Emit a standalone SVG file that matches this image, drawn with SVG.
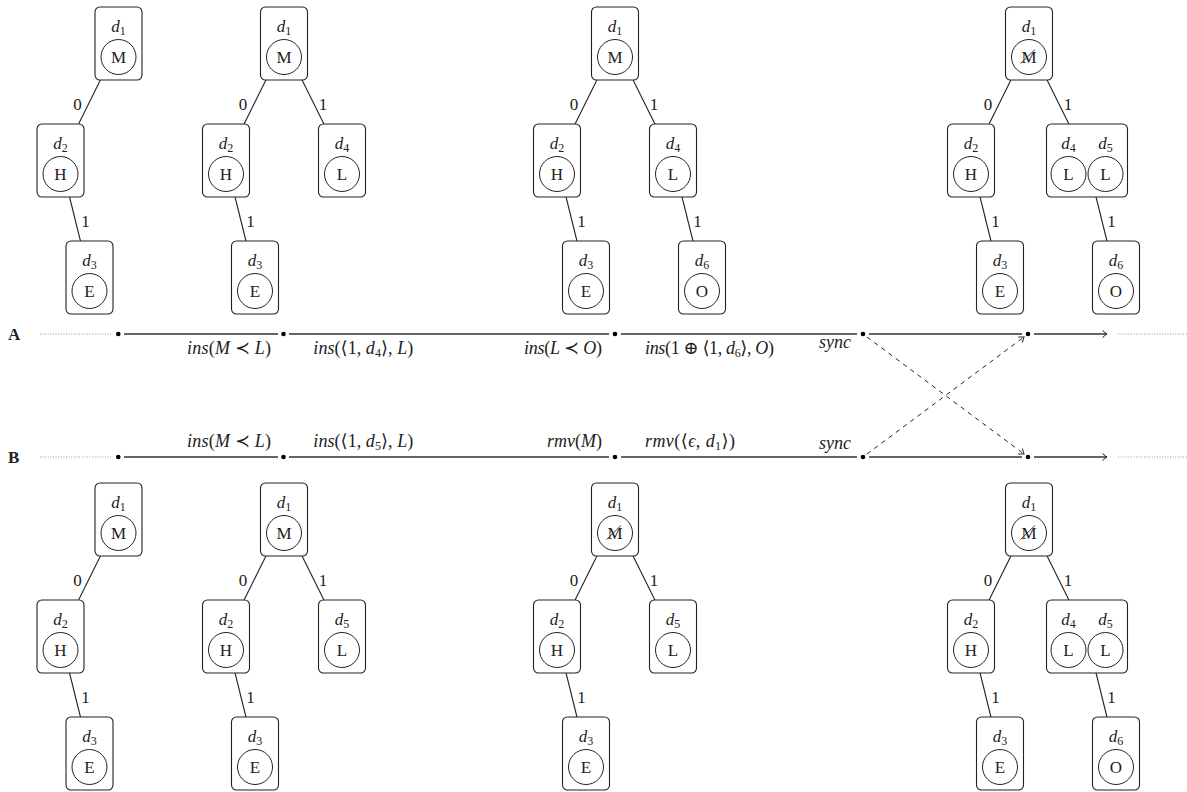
<svg xmlns="http://www.w3.org/2000/svg" width="1187" height="792" viewBox="0 0 1187 792">
<defs>
<style>
.box{fill:#fff;stroke:#222;stroke-width:1.1}
.cir{fill:none;stroke:#222;stroke-width:1}
.t{font-family:"Liberation Serif","DejaVu Serif",serif;font-size:17px;fill:#222}
.tm{font-family:"Liberation Serif","DejaVu Serif",serif;font-size:18px;fill:#222}
.m{text-anchor:middle}
.e{text-anchor:end}
.it{font-style:italic}
.sub{font-size:12px}
.edge{stroke:#222;stroke-width:1.1;fill:none}
.tl{stroke:#333;stroke-width:1.6;fill:none}
.dot{stroke:#999;stroke-width:1;stroke-dasharray:1 1.6;fill:none}
.dash{stroke:#222;stroke-width:1;stroke-dasharray:4.5 4.5;fill:none}
.strike{stroke:#222;stroke-width:0.9}
.pt{fill:#000}
</style>
<marker id="ah" viewBox="-6 -5 8 10" markerWidth="8" markerHeight="10" refX="0" refY="0" orient="auto" markerUnits="userSpaceOnUse">
<path d="M-4.5,-3.5 Q-1.5,-0.8 0,0 Q-1.5,0.8 -4.5,3.5" fill="none" stroke="#222" stroke-width="1"/>
</marker>
</defs>
<rect width="1187" height="792" fill="#fff"/>

<!-- connectors -->
<g id="connectors">
<line class="edge" x1="100.4" y1="80" x2="78.6" y2="124"/>
<line class="edge" x1="69.55" y1="197" x2="80.45" y2="241"/>
<line class="edge" x1="265.9" y1="80" x2="244.1" y2="124"/>
<line class="edge" x1="302.1" y1="80" x2="323.9" y2="124"/>
<line class="edge" x1="235.05" y1="197" x2="245.95" y2="241"/>
<line class="edge" x1="596.9" y1="80" x2="575.1" y2="124"/>
<line class="edge" x1="633.1" y1="80" x2="654.9" y2="124"/>
<line class="edge" x1="566.05" y1="197" x2="576.95" y2="241"/>
<line class="edge" x1="682.05" y1="197" x2="692.95" y2="241"/>
<line class="edge" x1="1010.9" y1="80" x2="989.1" y2="124"/>
<line class="edge" x1="1047.1" y1="80" x2="1068.9" y2="124"/>
<line class="edge" x1="980.05" y1="197" x2="990.95" y2="241"/>
<line class="edge" x1="1096.05" y1="197" x2="1106.95" y2="241"/>
<line class="edge" x1="100.4" y1="556" x2="78.6" y2="600"/>
<line class="edge" x1="69.55" y1="673" x2="80.45" y2="717"/>
<line class="edge" x1="265.9" y1="556" x2="244.1" y2="600"/>
<line class="edge" x1="302.1" y1="556" x2="323.9" y2="600"/>
<line class="edge" x1="235.05" y1="673" x2="245.95" y2="717"/>
<line class="edge" x1="596.9" y1="556" x2="575.1" y2="600"/>
<line class="edge" x1="633.1" y1="556" x2="654.9" y2="600"/>
<line class="edge" x1="566.05" y1="673" x2="576.95" y2="717"/>
<line class="edge" x1="1010.9" y1="556" x2="989.1" y2="600"/>
<line class="edge" x1="1047.1" y1="556" x2="1068.9" y2="600"/>
<line class="edge" x1="980.05" y1="673" x2="990.95" y2="717"/>
<line class="edge" x1="1096.05" y1="673" x2="1106.95" y2="717"/>
<g class="t m">
<text x="77.5" y="109.5">0</text><text x="85.5" y="226.5">1</text>
<text x="243" y="109.5">0</text><text x="323" y="109.5">1</text><text x="250.5" y="226.5">1</text>
<text x="574" y="109.5">0</text><text x="654" y="109.5">1</text><text x="581.5" y="226.5">1</text><text x="697.5" y="226.5">1</text>
<text x="988" y="109.5">0</text><text x="1068" y="109.5">1</text><text x="995.5" y="226.5">1</text><text x="1111.5" y="226.5">1</text>
<text x="77.5" y="585.5">0</text><text x="85.5" y="702.5">1</text>
<text x="243" y="585.5">0</text><text x="323" y="585.5">1</text><text x="250.5" y="702.5">1</text>
<text x="574" y="585.5">0</text><text x="654" y="585.5">1</text><text x="581.5" y="702.5">1</text>
<text x="988" y="585.5">0</text><text x="1068" y="585.5">1</text><text x="995.5" y="702.5">1</text><text x="1111.5" y="702.5">1</text>
</g>

<line class="dot" x1="40" y1="334" x2="113" y2="334"/>
<line class="tl" x1="124" y1="334" x2="278" y2="334"/>
<line class="tl" x1="289" y1="334" x2="609" y2="334"/>
<line class="tl" x1="621" y1="334" x2="857" y2="334"/>
<line class="tl" x1="869" y1="334" x2="1022" y2="334"/>
<line class="tl" x1="1034" y1="334" x2="1107" y2="334" marker-end="url(#ah)"/>
<line class="dot" x1="1118" y1="334" x2="1187" y2="334"/>
<line class="dot" x1="40" y1="457" x2="113" y2="457"/>
<line class="tl" x1="124" y1="457" x2="278" y2="457"/>
<line class="tl" x1="289" y1="457" x2="609" y2="457"/>
<line class="tl" x1="621" y1="457" x2="857" y2="457"/>
<line class="tl" x1="869" y1="457" x2="1022" y2="457"/>
<line class="tl" x1="1034" y1="457" x2="1107" y2="457" marker-end="url(#ah)"/>
<line class="dot" x1="1118" y1="457" x2="1187" y2="457"/>
<line class="dash" x1="867" y1="337" x2="1024" y2="454" marker-end="url(#ah)"/>
<line class="dash" x1="867" y1="454" x2="1024" y2="337" marker-end="url(#ah)"/>
<g class="pt">
<circle cx="118.3" cy="334" r="2.3"/><circle cx="283.5" cy="334" r="2.3"/><circle cx="615" cy="334" r="2.3"/><circle cx="863" cy="334" r="2.3"/><circle cx="1028" cy="334" r="2.3"/>
<circle cx="118.3" cy="457" r="2.3"/><circle cx="283.5" cy="457" r="2.3"/><circle cx="615" cy="457" r="2.3"/><circle cx="863" cy="457" r="2.3"/><circle cx="1028" cy="457" r="2.3"/>
</g>
</g>

<g id="labels" class="tm">
<text x="8" y="340" font-weight="bold" font-size="17">A</text>
<text x="8" y="463" font-weight="bold" font-size="17">B</text>
<text class="e" x="271" y="354" textLength="84" lengthAdjust="spacing"><tspan class="it">ins</tspan>(<tspan class="it">M</tspan> ≺ <tspan class="it">L</tspan>)</text>
<text x="313.3" y="354" textLength="100" lengthAdjust="spacing"><tspan class="it">ins</tspan>(⟨1, <tspan class="it">d</tspan><tspan class="sub" dy="3">4</tspan><tspan dy="-3">⟩, </tspan><tspan class="it">L</tspan>)</text>
<text class="e" x="602" y="354" textLength="78" lengthAdjust="spacing"><tspan class="it">ins</tspan>(<tspan class="it">L</tspan> ≺ <tspan class="it">O</tspan>)</text>
<text x="645" y="354" textLength="129" lengthAdjust="spacing"><tspan class="it">ins</tspan>(1 ⊕ ⟨1, <tspan class="it">d</tspan><tspan class="sub" dy="3">6</tspan><tspan dy="-3">⟩, </tspan><tspan class="it">O</tspan>)</text>
<text class="e it" x="851" y="347.5">sync</text>
<text class="e" x="271" y="447" textLength="84" lengthAdjust="spacing"><tspan class="it">ins</tspan>(<tspan class="it">M</tspan> ≺ <tspan class="it">L</tspan>)</text>
<text x="313.3" y="447" textLength="100" lengthAdjust="spacing"><tspan class="it">ins</tspan>(⟨1, <tspan class="it">d</tspan><tspan class="sub" dy="3">5</tspan><tspan dy="-3">⟩, </tspan><tspan class="it">L</tspan>)</text>
<text class="e" x="602" y="447"><tspan class="it">rmv</tspan>(<tspan class="it">M</tspan>)</text>
<text x="645" y="447" textLength="90" lengthAdjust="spacing"><tspan class="it">rmv</tspan>(⟨<tspan class="it">ϵ</tspan>, <tspan class="it">d</tspan><tspan class="sub" dy="3">1</tspan><tspan dy="-3">⟩)</tspan></text>
<text class="e it" x="851" y="449">sync</text>
</g>

<!-- ===== TOP TREES ===== -->
<g id="A1-d1"><rect class="box" x="95" y="7" width="47" height="73" rx="5"/><text class="t m" x="118.5" y="31.5"><tspan class="it">d</tspan><tspan class="sub" dy="3">1</tspan></text><circle class="cir" cx="118.5" cy="57" r="17.5"/><text class="t m" x="118.5" y="63">M</text></g>
<g id="A1-d2"><rect class="box" x="37" y="124" width="47" height="73" rx="5"/><text class="t m" x="60.5" y="148.5"><tspan class="it">d</tspan><tspan class="sub" dy="3">2</tspan></text><circle class="cir" cx="60.5" cy="174" r="17.5"/><text class="t m" x="60.5" y="180">H</text></g>
<g id="A1-d3"><rect class="box" x="66" y="241" width="47" height="73" rx="5"/><text class="t m" x="89.5" y="265.5"><tspan class="it">d</tspan><tspan class="sub" dy="3">3</tspan></text><circle class="cir" cx="89.5" cy="291" r="17.5"/><text class="t m" x="89.5" y="297">E</text></g>

<g id="A2-d1"><rect class="box" x="260.5" y="7" width="47" height="73" rx="5"/><text class="t m" x="284" y="31.5"><tspan class="it">d</tspan><tspan class="sub" dy="3">1</tspan></text><circle class="cir" cx="284" cy="57" r="17.5"/><text class="t m" x="284" y="63">M</text></g>
<g id="A2-d2"><rect class="box" x="202.5" y="124" width="47" height="73" rx="5"/><text class="t m" x="226" y="148.5"><tspan class="it">d</tspan><tspan class="sub" dy="3">2</tspan></text><circle class="cir" cx="226" cy="174" r="17.5"/><text class="t m" x="226" y="180">H</text></g>
<g id="A2-d4"><rect class="box" x="318.5" y="124" width="47" height="73" rx="5"/><text class="t m" x="342" y="148.5"><tspan class="it">d</tspan><tspan class="sub" dy="3">4</tspan></text><circle class="cir" cx="342" cy="174" r="17.5"/><text class="t m" x="342" y="180">L</text></g>
<g id="A2-d3"><rect class="box" x="231.5" y="241" width="47" height="73" rx="5"/><text class="t m" x="255" y="265.5"><tspan class="it">d</tspan><tspan class="sub" dy="3">3</tspan></text><circle class="cir" cx="255" cy="291" r="17.5"/><text class="t m" x="255" y="297">E</text></g>

<g id="A3-d1"><rect class="box" x="591.5" y="7" width="47" height="73" rx="5"/><text class="t m" x="615" y="31.5"><tspan class="it">d</tspan><tspan class="sub" dy="3">1</tspan></text><circle class="cir" cx="615" cy="57" r="17.5"/><text class="t m" x="615" y="63">M</text></g>
<g id="A3-d2"><rect class="box" x="533.5" y="124" width="47" height="73" rx="5"/><text class="t m" x="557" y="148.5"><tspan class="it">d</tspan><tspan class="sub" dy="3">2</tspan></text><circle class="cir" cx="557" cy="174" r="17.5"/><text class="t m" x="557" y="180">H</text></g>
<g id="A3-d4"><rect class="box" x="649.5" y="124" width="47" height="73" rx="5"/><text class="t m" x="673" y="148.5"><tspan class="it">d</tspan><tspan class="sub" dy="3">4</tspan></text><circle class="cir" cx="673" cy="174" r="17.5"/><text class="t m" x="673" y="180">L</text></g>
<g id="A3-d3"><rect class="box" x="562.5" y="241" width="47" height="73" rx="5"/><text class="t m" x="586" y="265.5"><tspan class="it">d</tspan><tspan class="sub" dy="3">3</tspan></text><circle class="cir" cx="586" cy="291" r="17.5"/><text class="t m" x="586" y="297">E</text></g>
<g id="A3-d6"><rect class="box" x="678.5" y="241" width="47" height="73" rx="5"/><text class="t m" x="702" y="265.5"><tspan class="it">d</tspan><tspan class="sub" dy="3">6</tspan></text><circle class="cir" cx="702" cy="291" r="17.5"/><text class="t m" x="702" y="297">O</text></g>

<g id="A4-d1"><rect class="box" x="1005.5" y="7" width="47" height="73" rx="5"/><text class="t m" x="1029" y="31.5"><tspan class="it">d</tspan><tspan class="sub" dy="3">1</tspan></text><circle class="cir" cx="1029" cy="57" r="17.5"/><text class="t m" x="1029" y="63">M</text><line class="strike" x1="1020.5" y1="63.5" x2="1035" y2="49.5"/></g>
<g id="A4-d2"><rect class="box" x="947.5" y="124" width="47" height="73" rx="5"/><text class="t m" x="971" y="148.5"><tspan class="it">d</tspan><tspan class="sub" dy="3">2</tspan></text><circle class="cir" cx="971" cy="174" r="17.5"/><text class="t m" x="971" y="180">H</text></g>
<g id="A4-d4d5"><rect class="box" x="1046.5" y="124" width="81" height="73" rx="5"/><text class="t m" x="1068.5" y="148.5"><tspan class="it">d</tspan><tspan class="sub" dy="3">4</tspan></text><circle class="cir" cx="1068.5" cy="174" r="17.5"/><text class="t m" x="1068.5" y="180">L</text><text class="t m" x="1105.5" y="148.5"><tspan class="it">d</tspan><tspan class="sub" dy="3">5</tspan></text><circle class="cir" cx="1105.5" cy="174" r="17.5"/><text class="t m" x="1105.5" y="180">L</text></g>
<g id="A4-d3"><rect class="box" x="976.5" y="241" width="47" height="73" rx="5"/><text class="t m" x="1000" y="265.5"><tspan class="it">d</tspan><tspan class="sub" dy="3">3</tspan></text><circle class="cir" cx="1000" cy="291" r="17.5"/><text class="t m" x="1000" y="297">E</text></g>
<g id="A4-d6"><rect class="box" x="1092.5" y="241" width="47" height="73" rx="5"/><text class="t m" x="1116" y="265.5"><tspan class="it">d</tspan><tspan class="sub" dy="3">6</tspan></text><circle class="cir" cx="1116" cy="291" r="17.5"/><text class="t m" x="1116" y="297">O</text></g>

<!-- ===== BOTTOM TREES ===== -->
<g id="B1-d1"><rect class="box" x="95" y="483" width="47" height="73" rx="5"/><text class="t m" x="118.5" y="507.5"><tspan class="it">d</tspan><tspan class="sub" dy="3">1</tspan></text><circle class="cir" cx="118.5" cy="533" r="17.5"/><text class="t m" x="118.5" y="539">M</text></g>
<g id="B1-d2"><rect class="box" x="37" y="600" width="47" height="73" rx="5"/><text class="t m" x="60.5" y="624.5"><tspan class="it">d</tspan><tspan class="sub" dy="3">2</tspan></text><circle class="cir" cx="60.5" cy="650" r="17.5"/><text class="t m" x="60.5" y="656">H</text></g>
<g id="B1-d3"><rect class="box" x="66" y="717" width="47" height="73" rx="5"/><text class="t m" x="89.5" y="741.5"><tspan class="it">d</tspan><tspan class="sub" dy="3">3</tspan></text><circle class="cir" cx="89.5" cy="767" r="17.5"/><text class="t m" x="89.5" y="773">E</text></g>

<g id="B2-d1"><rect class="box" x="260.5" y="483" width="47" height="73" rx="5"/><text class="t m" x="284" y="507.5"><tspan class="it">d</tspan><tspan class="sub" dy="3">1</tspan></text><circle class="cir" cx="284" cy="533" r="17.5"/><text class="t m" x="284" y="539">M</text></g>
<g id="B2-d2"><rect class="box" x="202.5" y="600" width="47" height="73" rx="5"/><text class="t m" x="226" y="624.5"><tspan class="it">d</tspan><tspan class="sub" dy="3">2</tspan></text><circle class="cir" cx="226" cy="650" r="17.5"/><text class="t m" x="226" y="656">H</text></g>
<g id="B2-d5"><rect class="box" x="318.5" y="600" width="47" height="73" rx="5"/><text class="t m" x="342" y="624.5"><tspan class="it">d</tspan><tspan class="sub" dy="3">5</tspan></text><circle class="cir" cx="342" cy="650" r="17.5"/><text class="t m" x="342" y="656">L</text></g>
<g id="B2-d3"><rect class="box" x="231.5" y="717" width="47" height="73" rx="5"/><text class="t m" x="255" y="741.5"><tspan class="it">d</tspan><tspan class="sub" dy="3">3</tspan></text><circle class="cir" cx="255" cy="767" r="17.5"/><text class="t m" x="255" y="773">E</text></g>

<g id="B3-d1"><rect class="box" x="591.5" y="483" width="47" height="73" rx="5"/><text class="t m" x="615" y="507.5"><tspan class="it">d</tspan><tspan class="sub" dy="3">1</tspan></text><circle class="cir" cx="615" cy="533" r="17.5"/><text class="t m" x="615" y="539">M</text><line class="strike" x1="606.5" y1="539.5" x2="621" y2="525.5"/></g>
<g id="B3-d2"><rect class="box" x="533.5" y="600" width="47" height="73" rx="5"/><text class="t m" x="557" y="624.5"><tspan class="it">d</tspan><tspan class="sub" dy="3">2</tspan></text><circle class="cir" cx="557" cy="650" r="17.5"/><text class="t m" x="557" y="656">H</text></g>
<g id="B3-d5"><rect class="box" x="649.5" y="600" width="47" height="73" rx="5"/><text class="t m" x="673" y="624.5"><tspan class="it">d</tspan><tspan class="sub" dy="3">5</tspan></text><circle class="cir" cx="673" cy="650" r="17.5"/><text class="t m" x="673" y="656">L</text></g>
<g id="B3-d3"><rect class="box" x="562.5" y="717" width="47" height="73" rx="5"/><text class="t m" x="586" y="741.5"><tspan class="it">d</tspan><tspan class="sub" dy="3">3</tspan></text><circle class="cir" cx="586" cy="767" r="17.5"/><text class="t m" x="586" y="773">E</text></g>

<g id="B4-d1"><rect class="box" x="1005.5" y="483" width="47" height="73" rx="5"/><text class="t m" x="1029" y="507.5"><tspan class="it">d</tspan><tspan class="sub" dy="3">1</tspan></text><circle class="cir" cx="1029" cy="533" r="17.5"/><text class="t m" x="1029" y="539">M</text><line class="strike" x1="1020.5" y1="539.5" x2="1035" y2="525.5"/></g>
<g id="B4-d2"><rect class="box" x="947.5" y="600" width="47" height="73" rx="5"/><text class="t m" x="971" y="624.5"><tspan class="it">d</tspan><tspan class="sub" dy="3">2</tspan></text><circle class="cir" cx="971" cy="650" r="17.5"/><text class="t m" x="971" y="656">H</text></g>
<g id="B4-d4d5"><rect class="box" x="1046.5" y="600" width="81" height="73" rx="5"/><text class="t m" x="1068.5" y="624.5"><tspan class="it">d</tspan><tspan class="sub" dy="3">4</tspan></text><circle class="cir" cx="1068.5" cy="650" r="17.5"/><text class="t m" x="1068.5" y="656">L</text><text class="t m" x="1105.5" y="624.5"><tspan class="it">d</tspan><tspan class="sub" dy="3">5</tspan></text><circle class="cir" cx="1105.5" cy="650" r="17.5"/><text class="t m" x="1105.5" y="656">L</text></g>
<g id="B4-d3"><rect class="box" x="976.5" y="717" width="47" height="73" rx="5"/><text class="t m" x="1000" y="741.5"><tspan class="it">d</tspan><tspan class="sub" dy="3">3</tspan></text><circle class="cir" cx="1000" cy="767" r="17.5"/><text class="t m" x="1000" y="773">E</text></g>
<g id="B4-d6"><rect class="box" x="1092.5" y="717" width="47" height="73" rx="5"/><text class="t m" x="1116" y="741.5"><tspan class="it">d</tspan><tspan class="sub" dy="3">6</tspan></text><circle class="cir" cx="1116" cy="767" r="17.5"/><text class="t m" x="1116" y="773">O</text></g>
</svg>
